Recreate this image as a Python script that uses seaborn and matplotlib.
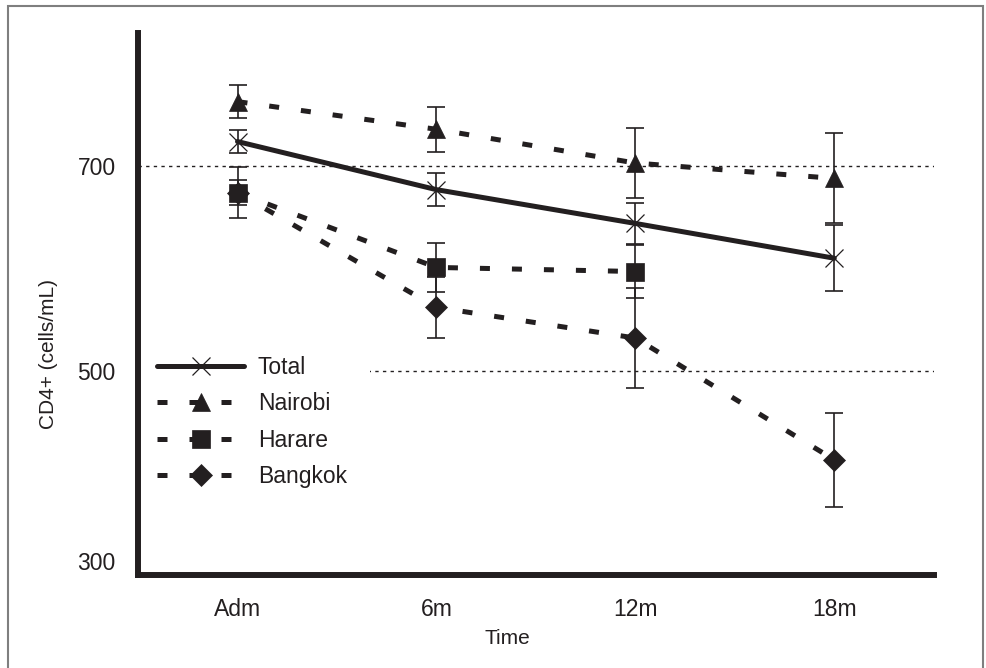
import numpy as np
import matplotlib
matplotlib.use('Agg')
import matplotlib.pyplot as plt
from matplotlib.patches import Rectangle
import seaborn as sns

# values
time_labels = ['Adm', '6m', '12m', '18m']

total = [724, 677, 644, 610]
total_err = [11, 16, 20, 32]
nairobi = [763, 736, 703, 688]
nairobi_err = [16, 22, 34, 44]
harare = [674, 601, 597]
harare_err = [25, 24, 26]
bangkok = [674, 562, 532, 413]
bangkok_err = [12, 30, 49, 46]

ref_levels = [700, 500]
y_ticks = [300, 500, 700]

sns.set_theme(style='white')
plt.rcParams['font.family'] = ['Liberation Sans', 'DejaVu Sans']

dark = '#231f20'
fig = plt.figure(figsize=(9.86, 6.68), dpi=100)
ax = fig.add_axes([0.140, 0.1385, 0.807, 0.812])
x = np.arange(len(time_labels))

for level in ref_levels:
    ax.axhline(level, color=dark, lw=1.0, ls=(0, (2.4, 3.1)), zorder=1)

# name, values, errors, marker, size, edge width, linestyle, zorder
series = [
    ('Total', total, total_err, 'x', 13, 0.9, '-', 3.3),
    ('Nairobi', nairobi, nairobi_err, '^', 13.5, 0.5, (0, (2, 4.4)), 3.2),
    ('Harare', harare, harare_err, 's', 13, 0.5, (0, (2, 4.4)), 3.1),
    ('Bangkok', bangkok, bangkok_err, 'D', 11, 0.5, (0, (2, 4.4)), 3.0),
]

for name, vals, errs, mk, ms, mew, ls, z in series:
    n = len(vals)
    ax.errorbar(x[:n], vals, yerr=errs, fmt='none', ecolor=dark,
                elinewidth=1.2, capsize=6.5, capthick=1.2, zorder=2)
    sns.lineplot(x=x[:n], y=vals, ax=ax, color=dark, lw=3.6, linestyle=ls,
                 marker=mk, ms=ms, markeredgecolor=dark, markerfacecolor=dark,
                 markeredgewidth=mew, errorbar=None, label=name, legend=False,
                 zorder=z)

handles, labels = ax.get_legend_handles_labels()
leg = ax.legend(handles, labels, loc='upper left', bbox_to_anchor=(-0.005, 0.447),
                frameon=True, fontsize=16.5, handlelength=3.8, handletextpad=0.6,
                labelspacing=0.58, borderpad=1.0, borderaxespad=0.0,
                framealpha=1.0, fancybox=False)
leg.get_frame().set_facecolor('white')
leg.get_frame().set_edgecolor('none')
leg.set_zorder(2.4)  # keep the left spine on top of the legend box
for t in leg.get_texts():
    t.set_color(dark)

ax.set_xlim(-0.5, 3.5)
ax.set_ylim(300, 830)
ax.set_xticks(x)
ax.set_xticklabels(time_labels)
ax.set_yticks(y_ticks)
ax.tick_params(length=0, pad=16, labelsize=16.5, labelcolor=dark)
ax.get_yticklabels()[0].set_va('bottom')

for side in ['top', 'right']:
    ax.spines[side].set_visible(False)
for side in ['left', 'bottom']:
    ax.spines[side].set_linewidth(4.3)
    ax.spines[side].set_color(dark)

ax.set_ylabel('CD4+ (cells/mL)', fontsize=15, color=dark)
ax.yaxis.set_label_coords(-0.100, 0.408)
ax.set_xlabel('Time', fontsize=15, color=dark)
ax.xaxis.set_label_coords(0.464, -0.098)

fig.patches.append(Rectangle((8 / 986, -0.05), (983 - 8) / 986, 1.05 - 6 / 668,
                             transform=fig.transFigure, fill=False,
                             edgecolor='#7f7f7f', lw=1.5))

fig.savefig('out.png', dpi=100)
